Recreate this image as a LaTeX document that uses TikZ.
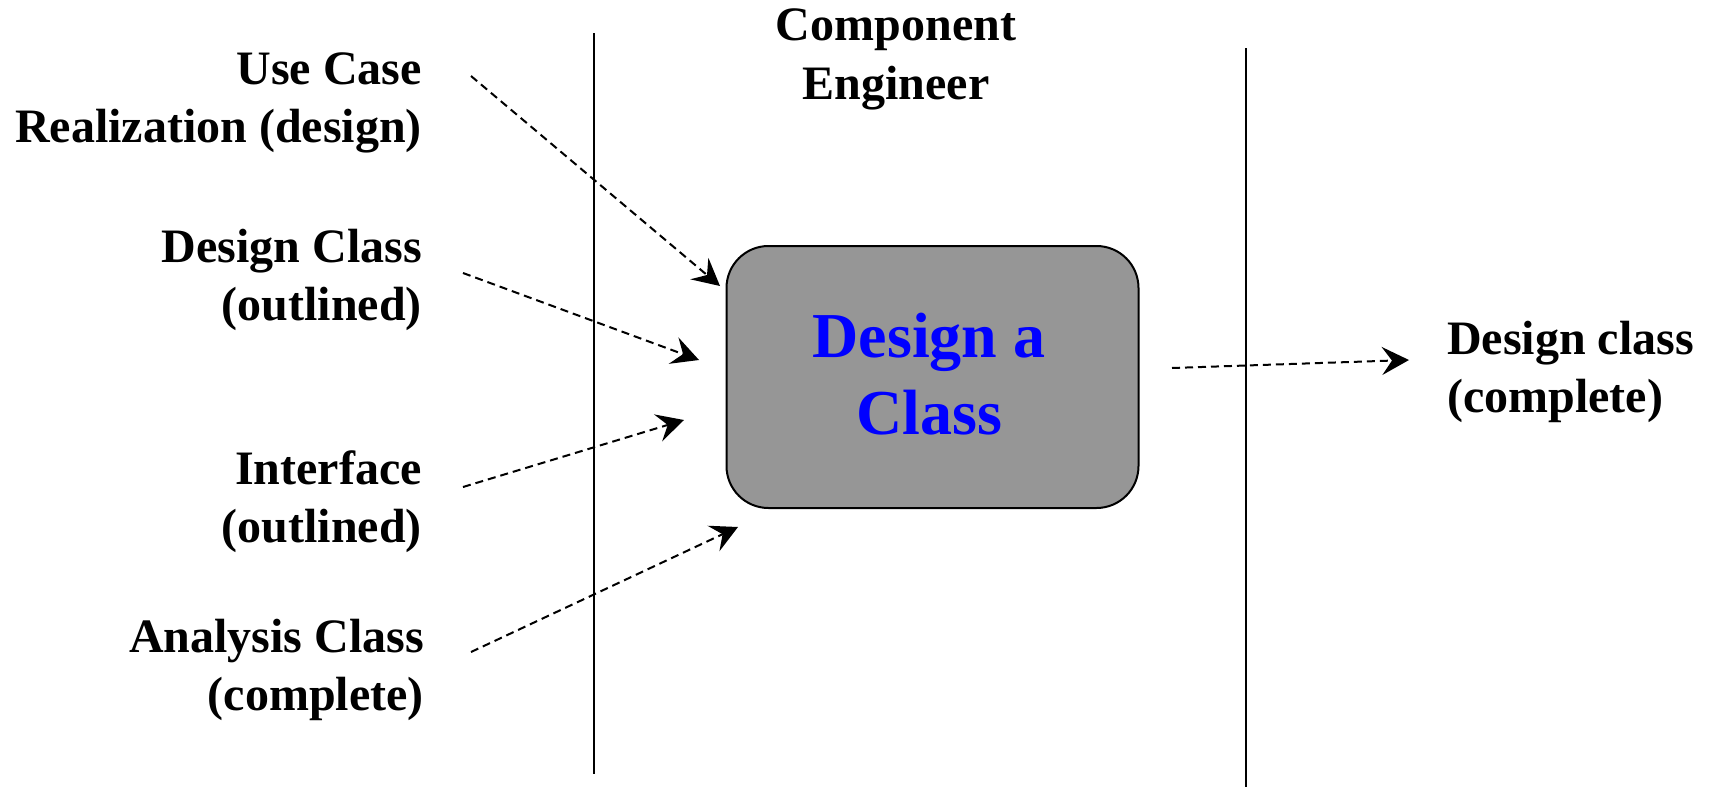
\documentclass[tikz,border=0pt]{standalone}
\usepackage{fontspec}
\setmainfont{Liberation Serif}
\usetikzlibrary{arrows.meta}
\definecolor{boxgray}{RGB}{150,150,150}
\tikzset{
  lbl/.style={font=\bfseries\fontsize{48}{58}\selectfont, inner sep=0pt, align=right, anchor=base east},
  lblr/.style={font=\bfseries\fontsize{48}{58}\selectfont, inner sep=0pt, align=left, anchor=base west},
  flow/.style={dash pattern=on 8pt off 5pt, line width=2pt, -{Stealth[length=27pt,width=28pt,inset=10pt]}},
  lane/.style={line width=2pt},
  activity/.style={draw, line width=2pt, fill=boxgray, rounded corners=42pt, minimum width=412pt, minimum height=262pt, inner sep=0pt},
  acttext/.style={font=\bfseries\fontsize{64}{77}\selectfont, text=blue, align=center, inner sep=0pt}
}
\begin{document}
\begin{tikzpicture}[x=1pt,y=-1pt]
\useasboundingbox (0,0) rectangle (1710,787);
\coordinate (l1t) at (594,33); \coordinate (l1b) at (594,774);
\coordinate (l2t) at (1246,48); \coordinate (l2b) at (1246,787);
\draw[lane] (l1t) -- (l1b);
\draw[lane] (l2t) -- (l2b);
\node[font=\bfseries\fontsize{48}{59}\selectfont, inner sep=0pt, align=center, anchor=base] (role) at (896,99) {Component\\Engineer};
\node[activity] (act) at (932.5,377) {};
\node[acttext, anchor=base] (acttxt) at (929,434) {Design a\\Class};
\node[lbl] (ucr) at (422,142) {Use Case\\Realization (design)};
\node[lbl] (dc) at (422,320) {Design Class\\(outlined)};
\node[lbl] (itf) at (422,542) {Interface\\(outlined)};
\node[lbl] (ac) at (424,710) {Analysis Class\\(complete)};
\node[lblr] (out) at (1447,412) {Design class\\(complete)};
\coordinate (s1) at (471,76);  \coordinate (e1) at (720,286);
\coordinate (s2) at (463,273); \coordinate (e2) at (699,360);
\coordinate (s3) at (463,487); \coordinate (e3) at (684,420);
\coordinate (s4) at (471,652); \coordinate (e4) at (738,527);
\coordinate (s5) at (1172,368); \coordinate (e5) at (1409,360);
\draw[flow] (s1) -- (e1);
\draw[flow] (s2) -- (e2);
\draw[flow] (s3) -- (e3);
\draw[flow] (s4) -- (e4);
\draw[flow] (s5) -- (e5);
\end{tikzpicture}
\end{document}
